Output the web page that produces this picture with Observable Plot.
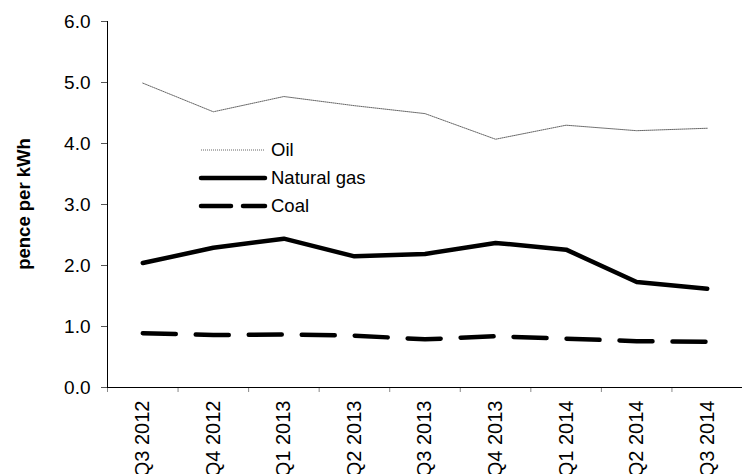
<!DOCTYPE html>
<html><head><meta charset="utf-8">
<script src="https://cdn.jsdelivr.net/npm/d3@7"></script>
<script src="https://cdn.jsdelivr.net/npm/@observablehq/plot@0.6"></script>
<style>
body{margin:0;background:#fff;font-family:"Liberation Sans",Arial,sans-serif;}
#wrap{position:relative;width:742px;height:474px;overflow:hidden;}
#legend{position:absolute;left:0;top:0;}
</style></head><body>
<div id="wrap"><div id="chart"></div><svg id="legend" width="742" height="474"></svg></div>
<script>
const categories = ["Q3 2012","Q4 2012","Q1 2013","Q2 2013","Q3 2013","Q4 2013","Q1 2014","Q2 2014","Q3 2014"];
const oil = [4.99,4.52,4.77,4.62,4.49,4.07,4.30,4.21,4.25];
const gas = [2.04,2.29,2.44,2.15,2.19,2.37,2.26,1.73,1.62];
const coal = [0.89,0.86,0.87,0.85,0.79,0.84,0.80,0.76,0.75];
const yTicks = [0,1,2,3,4,5,6];
const seriesNames = ["Oil","Natural gas","Coal"];
const yTitle = "pence per kWh";

const rows = s => s.map((v,i)=>({i, v}));
const idx = d3.range(categories.length);
const bounds = d3.range(categories.length+1).map(i=>i-0.5);

const chart = Plot.plot({
  width:742, height:474,
  marginTop:21, marginBottom:87, marginLeft:107, marginRight:0,
  style:{fontFamily:'"Liberation Sans",Arial,sans-serif', fontSize:"19px", color:"#000", background:"#fff"},
  x:{type:"linear", domain:[-0.5, categories.length-0.5]},
  y:{domain:[0,6]},
  marks:[
    Plot.axisY({ticks:yTicks, tickFormat:d=>d.toFixed(1), tickSize:6, tickPadding:11, fontSize:19, stroke:"#555", label:null}),
    Plot.axisX({ticks:bounds, tickFormat:()=>"", tickSize:5, stroke:"#888", label:null}),
    Plot.axisX({ticks:idx, tickFormat:i=>categories[i], tickSize:0, tickPadding:13, tickRotate:-90, fontSize:20, label:null}),
    Plot.ruleX([bounds[0]], {stroke:"#000", strokeWidth:1}),
    Plot.ruleY([0], {stroke:"#000", strokeWidth:1}),
    Plot.line(rows(oil), {x:"i", y:"v", stroke:"#666", strokeWidth:1, strokeDasharray:"1,1"}),
    Plot.line(rows(gas), {x:"i", y:"v", stroke:"#000", strokeWidth:4.5, strokeLinecap:"round", strokeLinejoin:"round"}),
    Plot.line(rows(coal), {x:"i", y:"v", stroke:"#000", strokeWidth:4.5, strokeLinecap:"round", strokeDasharray:"33,20"})
  ]
});
document.getElementById("chart").append(chart);

// y-axis title and legend
const lg = d3.select("#legend");
lg.append("text").attr("transform","translate(30,204) rotate(-90)").attr("text-anchor","middle")
  .attr("font-family",'"Liberation Sans",Arial,sans-serif').attr("font-size",18.5).attr("font-weight","bold").text(yTitle);
const styles = [
  {stroke:"#666", w:1, dash:"1,1", cap:"butt"},
  {stroke:"#000", w:4.5, dash:null, cap:"round"},
  {stroke:"#000", w:4.5, dash:"30,12", cap:"round"}
];
const ly = [150,178,206];
seriesNames.forEach((name,k)=>{
  const s = styles[k];
  const l = lg.append("line").attr("x1",201).attr("x2",265).attr("y1",ly[k]).attr("y2",ly[k])
    .attr("stroke",s.stroke).attr("stroke-width",s.w).attr("stroke-linecap",s.cap);
  if (s.dash) l.attr("stroke-dasharray",s.dash);
  lg.append("text").attr("x",271).attr("y",ly[k]).attr("dy","0.35em")
    .attr("font-family",'"Liberation Sans",Arial,sans-serif').attr("font-size",18.5).text(name);
});
</script>
</body></html>
